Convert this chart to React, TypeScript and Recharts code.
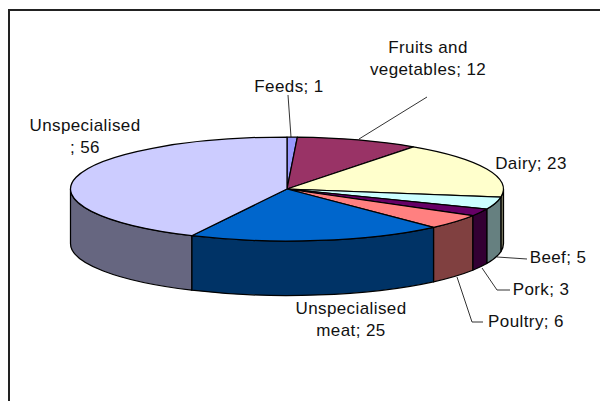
import { Pie, PieChart } from "recharts";

const categories = ["Feeds", "Fruits and vegetables", "Dairy", "Beef", "Pork", "Poultry", "Unspecialised meat", "Unspecialised"];
const values = [1, 12, 23, 5, 3, 6, 25, 56];
const topColors = ["#9999FF", "#993366", "#FFFFCC", "#CCFFFF", "#660066", "#FF8080", "#0066CC", "#CCCCFF"];
const wallColors = ["#666680", "#4D1A33", "#808066", "#668080", "#330033", "#804040", "#003366", "#666680"];

const wallData = categories.map((name, i) => ({ name, value: values[i], fill: wallColors[i] }));
const topData = categories.map((name, i) => ({ name, value: values[i], fill: topColors[i] }));

const SQUASH = 52 / 216.5; // pie is tipped over, top is an ellipse
const DEPTH = 54.5;

const rimPoint = (cx: number, cy: number, r: number, deg: number) => {
  const a = (deg * Math.PI) / 180;
  return [cx + r * Math.cos(a), cy - r * SQUASH * Math.sin(a)];
};

function TopSlice(props: any) {
  const { cx, cy, outerRadius: r, startAngle, endAngle, fill } = props;
  const [x1, y1] = rimPoint(cx, cy, r, startAngle);
  const [x2, y2] = rimPoint(cx, cy, r, endAngle);
  const large = Math.abs(startAngle - endAngle) > 180 ? 1 : 0;
  return (
    <path
      d={`M${cx},${cy}L${x1},${y1}A${r},${r * SQUASH} 0 ${large} 1 ${x2},${y2}Z`}
      fill={fill}
      stroke="#000"
      strokeWidth={1.25}
      strokeLinejoin="round"
    />
  );
}

// only the front half of the rim shows a wall
function WallSlice(props: any) {
  const { cx, cy, outerRadius: r, startAngle, endAngle, fill } = props;
  const from = Math.min(startAngle, 0);
  const to = Math.max(endAngle, -180);
  if (from <= to) return null;
  const [x1, y1] = rimPoint(cx, cy, r, from);
  const [x2, y2] = rimPoint(cx, cy, r, to);
  const ry = r * SQUASH;
  return (
    <path
      d={`M${x1},${y1}A${r},${ry} 0 0 1 ${x2},${y2}L${x2},${y2 + DEPTH}A${r},${ry} 0 0 0 ${x1},${y1 + DEPTH}Z`}
      fill={fill}
      stroke="#000"
      strokeWidth={1.25}
      strokeLinejoin="round"
    />
  );
}

const labelLines = [
  "288,95 291,137",
  "427,97 359,139",
  "497,257 527,259",
  "482,268 497,290 510,290",
  "457,277 472,322 483,322",
];

const labelRows = [
  { lines: ["Fruits and", "vegetables; 12"], x: 428, y: 53 },
  { lines: ["Feeds; 1"], x: 289, y: 92 },
  { lines: ["Unspecialised", "; 56"], x: 85, y: 131 },
  { lines: ["Dairy; 23"], x: 531, y: 169 },
  { lines: ["Beef; 5"], x: 558, y: 263 },
  { lines: ["Pork; 3"], x: 541, y: 295 },
  { lines: ["Poultry; 6"], x: 526, y: 327 },
  { lines: ["Unspecialised", "meat; 25"], x: 351, y: 314 },
];

export default function App() {
  return (
    <div style={{ position: "absolute", left: 0, top: 0, width: 600, height: 401, overflow: "hidden", background: "#fff" }}>
      <div style={{ position: "absolute", left: 8, top: 9, width: 650, height: 450, border: "2px solid #222", boxSizing: "border-box" }} />
      <PieChart width={600} height={401} margin={{ top: 0, right: 0, bottom: 0, left: 0 }} style={{ position: "absolute", left: 0, top: 0 }}>
        <Pie
          data={wallData}
          dataKey="value"
          cx={287}
          cy={189}
          outerRadius={216.5}
          startAngle={90}
          endAngle={-270}
          shape={WallSlice}
          isAnimationActive={false}
        />
        <Pie
          data={topData}
          dataKey="value"
          cx={287}
          cy={189}
          outerRadius={216.5}
          startAngle={90}
          endAngle={-270}
          shape={TopSlice}
          isAnimationActive={false}
        />
        {labelLines.map((points) => (
          <polyline key={points} points={points} fill="none" stroke="#333" strokeWidth={1} />
        ))}
        {labelRows.map((row) => (
          <text key={row.lines[0] + row.x} textAnchor="middle" fontFamily="Liberation Sans" fontSize={17} letterSpacing={0.4} fill="#111">
            {row.lines.map((line, i) => (
              <tspan key={line} x={row.x} y={row.y + i * 22}>
                {line}
              </tspan>
            ))}
          </text>
        ))}
      </PieChart>
    </div>
  );
}
